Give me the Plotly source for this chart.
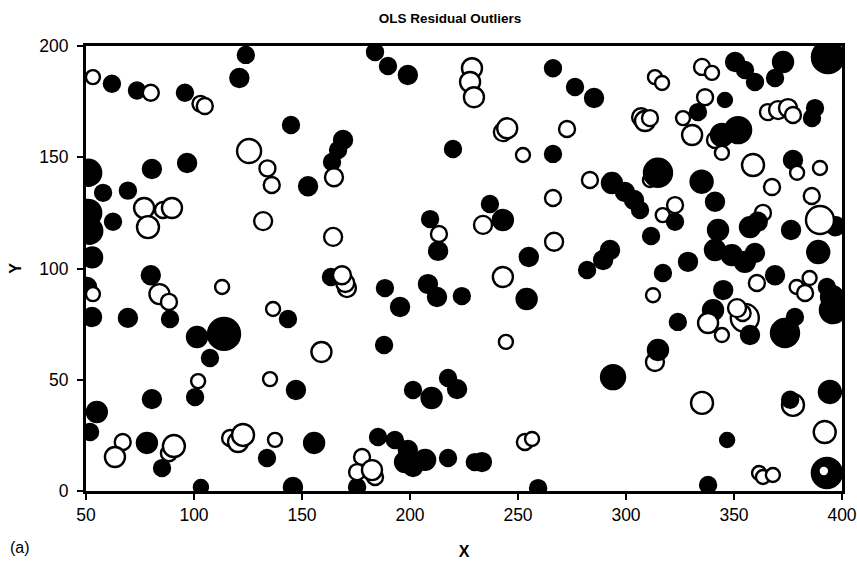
import plotly.graph_objects as go

# Data (x, y, signed residual); list order = drawing order
x_vals = [
    53.2, 62, 73.6, 80, 95.8, 103, 105, 124, 121, 125.5,
    134, 136, 51, 80.5, 96.8, 57.9, 69.4, 76.9, 78.7, 85.6,
    89.8, 51, 51.5, 62.5, 52.8, 132, 80, 84, 88.4, 50.5,
    53.2, 52.8, 69.4, 88.9, 113, 136.6, 113.9, 101.4, 107.4, 101.9,
    100.5, 135.2, 80.5, 55, 51.9, 67, 63.4, 78.2, 85.2, 88.4,
    90.7, 116.7, 120.4, 122.7, 137.5, 133.8, 103.2,
    183.8, 189.8, 199, 228.7, 227.8, 229.6, 144.9, 169, 166.7, 163.9,
    164.8, 152.8, 219.9, 164.4, 163.4, 170.8, 170, 168.5, 188.4, 195.4,
    209.3, 213.4, 213, 208.3, 212.5, 224, 143.5, 159, 188, 147.2,
    201.4, 210, 217.6, 221.8, 155.6, 145.8, 185.2, 193, 199, 197.7,
    201.4, 207, 217.6, 230, 175.5, 177.8, 175.5, 183.8, 182.4,
    266.2, 276.4, 285.2, 243, 245, 272.7, 252.3, 266.2, 283.3, 307,
    308.8, 311.1, 313.4, 316.7, 311.1, 314.8, 293.5, 299.5, 303.7, 306.5,
    237, 233.8, 243, 266.2, 266.7, 255, 243, 254, 282, 289.4,
    292.6, 311.6, 317.1, 312.5, 244.4, 317, 322.7, 233.3, 259.3, 253.2,
    256.5, 294, 313.4, 314.8,
    335.2, 339.8, 350.5, 355.1, 359.7, 372.7, 369, 393.5, 336.6, 345.8,
    326.4, 333.3, 365.7, 370.4, 375, 377.3, 387.5, 386.1, 330.6, 341.2,
    344.4, 351.9, 344.4, 358.8, 377.3, 389.8, 367.6, 379.2, 335, 341.2,
    322.7, 342.6, 341.2, 349, 355, 359.7, 363.4, 357.4, 361, 376.4,
    397, 389.8, 386, 389, 328.7, 369, 360.6, 345, 379, 385,
    382.9, 393, 395.4, 395.8, 340.3, 355, 354, 351.4, 338, 324,
    378.2, 373.6, 357.4, 344.4, 335.2, 346.8, 377.3, 376, 394.4, 392,
    393, 391.6, 361.6, 363.4, 368, 338,
]
y_vals = [
    186, 183, 180, 179, 179, 174, 173, 196, 185.6, 152.8,
    145, 137.5, 143, 144.7, 147.4, 134, 135, 127.2, 118.6, 126.3,
    127.2, 125, 117, 121, 105, 121.3, 97, 88.5, 85, 91.7,
    88.5, 78.2, 77.8, 77.3, 91.7, 81.8, 70.6, 69.2, 59.8, 49.4,
    42.2, 50.3, 41.3, 35.5, 26.5, 22, 15.3, 21.6, 10.3, 17,
    20.2, 23.8, 22, 25.2, 23, 14.8, 1.8,
    197.3, 191, 187, 190, 183.8, 177, 164.5, 157.8, 153.3, 147.9,
    141, 137, 153.7, 114.2, 96.2, 91.2, 93.5, 97, 91.2, 82.7,
    122.2, 115.5, 107.9, 93, 87.2, 87.6, 77.3, 62.5, 65.6, 45.4,
    45.4, 41.8, 50.8, 45.8, 21.6, 1.8, 24.3, 22.9, 18.4, 13,
    10.8, 14, 14.8, 13, 1.8, 15.3, 8.5, 6.3, 9.4,
    190, 181.6, 176.6, 161.3, 163, 162.7, 151, 151.5, 139.8, 168,
    166.3, 167.6, 186, 183.4, 139.8, 143, 138.4, 134.4, 130.8, 126.3,
    129, 119.6, 121.8, 131.7, 112, 105.2, 96.2, 86.3, 99.3, 103.8,
    108.3, 114.6, 98, 88, 67, 124, 128.5, 13, 1.3, 22,
    23.4, 51.2, 58, 63.4,
    190.6, 187.9, 192.8, 189.2, 183.8, 192.8, 185.6, 195, 177, 175.7,
    167.6, 170.3, 170.3, 171.2, 172.1, 169, 172.1, 167.6, 160, 157.8,
    160, 162.2, 152, 146.5, 148.8, 145.2, 136.6, 143, 139, 130,
    121, 117.3, 108.3, 106, 103, 107, 125, 118.6, 121, 117.3,
    119, 121.8, 132.6, 107.4, 103, 97, 93.5, 90.3, 91.7, 95.7,
    89, 91.7, 87.2, 81.3, 81.3, 77.8, 80, 82.2, 75.5, 76,
    78.2, 71, 70.1, 70.1, 39.6, 22.9, 38.7, 41, 44.5, 26.5,
    8.1, 9, 8.1, 6.3, 7.2, 2.7,
]
residuals = [
    -2, 2.25, 2.25, -2.25, 2.25, -2.25, -2.25, 2.25, 2.5, -3.25,
    -2.25, -2.25, 3.5, 2.5, 2.5, 2.25, 2.25, -2.75, -3, -2.25,
    -2.75, 3.5, 3.5, 2.25, 2.75, -2.5, 2.5, -2.75, -2.25, 2.5,
    -2, 2.5, 2.5, 2.25, -2, -2, 4.25, 2.75, 2.25, -2,
    2.25, -2, 2.5, 2.75, 2.25, -2.25, -2.75, 2.75, 2.25, -2.25,
    -3, -2.25, -2.75, -3, -2, 2.25, 2,
    2.25, 2.25, 2.5, -2.75, -2.75, -2.75, 2.25, 2.5, 2.25, 2.25,
    -2.5, 2.5, 2.25, -2.5, 2.25, -2.5, -2.5, -2.5, 2.25, 2.5,
    2.25, -2.25, 2.5, 2.5, 2.5, 2.25, 2.25, -2.75, 2.25, 2.5,
    2.25, 2.75, 2.25, 2.5, 2.75, 2.5, 2.25, 2.25, 2.5, 2.75,
    2.5, 2.75, 2.25, 2.25, 2.25, -2.25, -2.25, -2.25, -2.75,
    2.25, 2.25, 2.5, -2.5, -2.75, -2.25, -2, 2.25, -2.25, -2.5,
    -2.75, -2.25, -2, -2, -2, 3.75, 2.75, 2.5, 2.5, 2.25,
    2.25, -2.5, 2.75, -2.25, -2.5, 2.5, -2.75, 2.75, 2.25, 2.5,
    2.5, 2.25, 2.25, -2, -2, -2, -2.25, 2.5, 2.25, -2.25,
    -2, 3.25, -2.5, 2.75,
    -2.25, -2, 2.5, 2.25, 2.25, 2.75, 2.25, 4.25, -2.25, 2,
    -2, 2.25, -2.25, -2.5, -2.5, -2.25, 2.25, 2.25, -2.75, -2.25,
    3, 3.5, -2, -3, 2.5, -2, -2.25, -2, 3, 2.5,
    2.25, 2.75, 2.75, 2.75, 2.75, 2.5, -2.25, 2.75, 2.5, 2.5,
    2.5, -3.75, -2.25, 3, 2.5, 2.5, -2.25, 2.5, -2, -2,
    -2.25, 2.25, 3, 3.5, 2.75, -3.75, -2.25, -2.5, -2.75, 2.25,
    2.25, 3.75, 2.5, -2, -3, 2, -3, 2.25, 3, -3,
    4, -1.6, -2, -2, -2, 2.25,
]

x_ticks = [50, 100, 150, 200, 250, 300, 350, 400]
y_ticks = [0, 50, 100, 150, 200]

sizes = [8 * abs(r) - 2 for r in residuals]
colors = ["black" if r > 0 else "white" for r in residuals]

font_family = "Liberation Sans, Arial, sans-serif"

fig = go.Figure()
fig.add_trace(go.Scatter(
    x=x_vals, y=y_vals, mode="markers",
    marker=dict(size=sizes, color=colors, opacity=1,
                line=dict(color="black", width=2.4)),
    cliponaxis=True, showlegend=False, hoverinfo="x+y",
))

axis_common = dict(
    showgrid=False, zeroline=False, showline=True, linecolor="black",
    linewidth=3, mirror=True, ticks="outside", ticklen=6, tickwidth=2,
    tickcolor="black", automargin=False,
    tickfont=dict(family=font_family, size=17.5, color="black"),
)

fig.update_layout(
    width=857, height=563,
    margin=dict(l=86, r=15, t=46, b=72, autoexpand=False),
    paper_bgcolor="white", plot_bgcolor="white",
    font=dict(family=font_family, color="black"),
    title=dict(text="<b>OLS Residual Outliers</b>", x=0.525, xanchor="center",
               y=1 - 18 / 563, yanchor="middle",
               font=dict(family=font_family, size=13.5, color="black")),
    xaxis=dict(range=[50, 400], tickvals=x_ticks, **axis_common,
               title=dict(text="<b>X</b>", font=dict(size=16), standoff=22)),
    yaxis=dict(range=[0, 200], tickvals=y_ticks, ticklabelstandoff=5, **axis_common,
               title=dict(text="<b>Y</b>", font=dict(size=16), standoff=14)),
    annotations=[dict(text="(a)", xref="paper", yref="paper", x=-0.103, y=-0.128,
                      xanchor="left", yanchor="middle", showarrow=False,
                      font=dict(family=font_family, size=16, color="black"))],
)

fig.write_html("out.html")
